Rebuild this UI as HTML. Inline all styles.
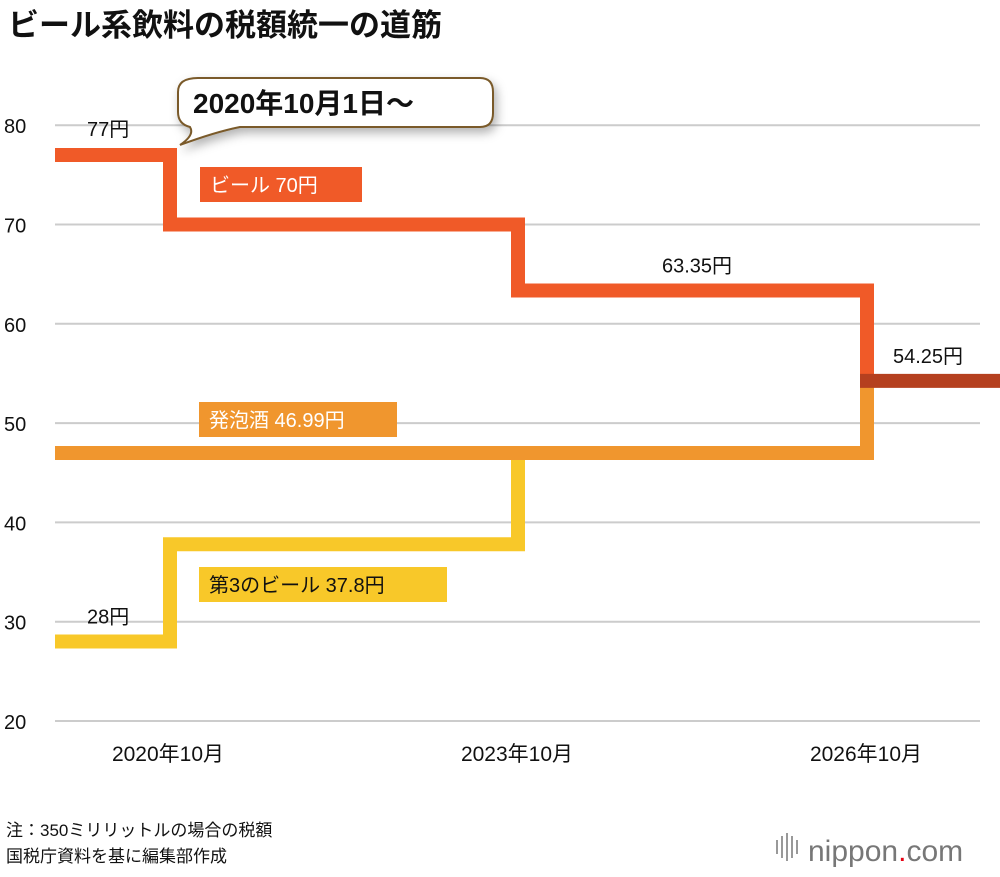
<!DOCTYPE html>
<html><head><meta charset="utf-8"><style>
body{margin:0;background:#fff;width:1000px;height:872px;overflow:hidden;font-family:"Liberation Sans","Noto Sans CJK JP",sans-serif}
svg text{font-family:"Liberation Sans","Noto Sans CJK JP",sans-serif}
</style></head><body>
<svg id="c" width="1000" height="872">
<defs><filter id="sh" x="-10%" y="-20%" width="130%" height="160%"><feDropShadow dx="3" dy="5" stdDeviation="5" flood-opacity="0.3"/></filter></defs>
<text x="8" y="36" font-size="31" font-weight="bold" fill="#111">ビール系飲料の税額統一の道筋</text>
<g id="grid"></g><g id="lines"></g><g id="labels"></g>
<text x="6" y="836" font-size="17" fill="#111">注：350ミリリットルの場合の税額</text>
<text x="6" y="862" font-size="17" fill="#111">国税庁資料を基に編集部作成</text>
<g fill="#999"><rect x="776" y="840" width="2" height="14"/><rect x="781" y="836" width="2" height="22"/><rect x="786" y="833" width="2" height="28"/><rect x="791" y="836" width="2" height="22"/><rect x="796" y="840" width="2" height="14"/></g>
<text x="808" y="861" font-size="30" fill="#777">nippon<tspan fill="#e60012">.</tspan>com</text>
</svg>
<script>
const yTicks=[20,30,40,50,60,70,80];
const xCats=["2020年10月","2023年10月","2026年10月"];
const beer=[77,70,63.35,54.25];
const happo=[46.99,46.99,46.99,54.25];
const third=[28,37.8,46.99,54.25];
const NS="http://www.w3.org/2000/svg";
const y=v=>721-(v-20)*9.93;
const xb=[55,170,518,867,1000];
const xl=i=>[168,517,866][i];
const svg=document.getElementById('c');
function mk(t,a,p){const e=document.createElementNS(NS,t);for(const k in a)e.setAttribute(k,a[k]);(p||svg).appendChild(e);return e;}
const grid=document.getElementById('grid'),lines=document.getElementById('lines'),labels=document.getElementById('labels');
yTicks.forEach(v=>{
 const l=mk('line',{x1:55,x2:980,y1:y(v),y2:y(v),stroke:'#ccc','stroke-width':2},grid);
 
 
 const t=mk('text',{x:4,y:y(v)+8,'font-size':20,fill:'#111'},grid);t.textContent=v;
 
 
});
xCats.forEach((c,i)=>{const t=mk('text',{x:xl(i),y:761,'font-size':21,fill:'#111','text-anchor':'middle'},grid);t.textContent=c;
 
 });
function step(vals,col,name){
 let d='M'+xb[0]+' '+y(vals[0]);
 for(let i=1;i<4;i++){d+=' H'+xb[i]+' V'+y(vals[i]);}
 const p=mk('path',{d:d,fill:'none',stroke:col,'stroke-width':14,'stroke-linejoin':'miter','stroke-linecap':'butt'},lines);
 
 
}
step(third,'#f8c829','third-beer-line');
step(happo,'#f0962e','happoshu-line');
step(beer,'#f05a28','beer-line');
let u=mk('line',{x1:xb[3]-7,x2:xb[4],y1:y(beer[3]),y2:y(beer[3]),stroke:'#b5401f','stroke-width':14},lines);


function txt(s,x,yy,name,opt){const t=mk('text',Object.assign({x:x,y:yy,'font-size':20,fill:'#111'},opt||{}),labels);t.textContent=s;
 
 return t;}
txt(beer[0]+'円',87,y(beer[0])-19,'label-beer-start');
txt(beer[2]+'円',662,y(beer[2])-18,'label-beer-2023');
txt(beer[3]+'円',893,y(beer[3])-18,'label-unified');
txt(third[0]+'円',87,y(third[0])-18,'label-third-start');
function box(s,x,yy,w,col,tc,name){const r=mk('rect',{x:x,y:yy,width:w,height:35,fill:col},labels);
 
 
 txt(s,x+10,yy+25,name,{fill:tc});}
box('ビール '+beer[1]+'円',200,167,162,'#f05a28','#fff','label-beer');
box('発泡酒 '+happo[0]+'円',199,402,198,'#f0962e','#fff','label-happoshu');
box('第3のビール '+third[1]+'円',199,567,248,'#f8c829','#111','label-third');
const b=mk('path',{d:'M198 78 H480 Q493 78 493 92 V113 Q493 127 480 127 H240 Q215 132 180 145 Q195 135 190 127 Q178 124 178 112 V92 Q178 78 198 78 Z',fill:'#fff',stroke:'#7a5a2a','stroke-width':2,filter:'url(#sh)'},labels);


txt('2020年10月1日〜',193,113,'callout-text',{'font-size':28,'font-weight':'bold'});
</script>
</body></html>
